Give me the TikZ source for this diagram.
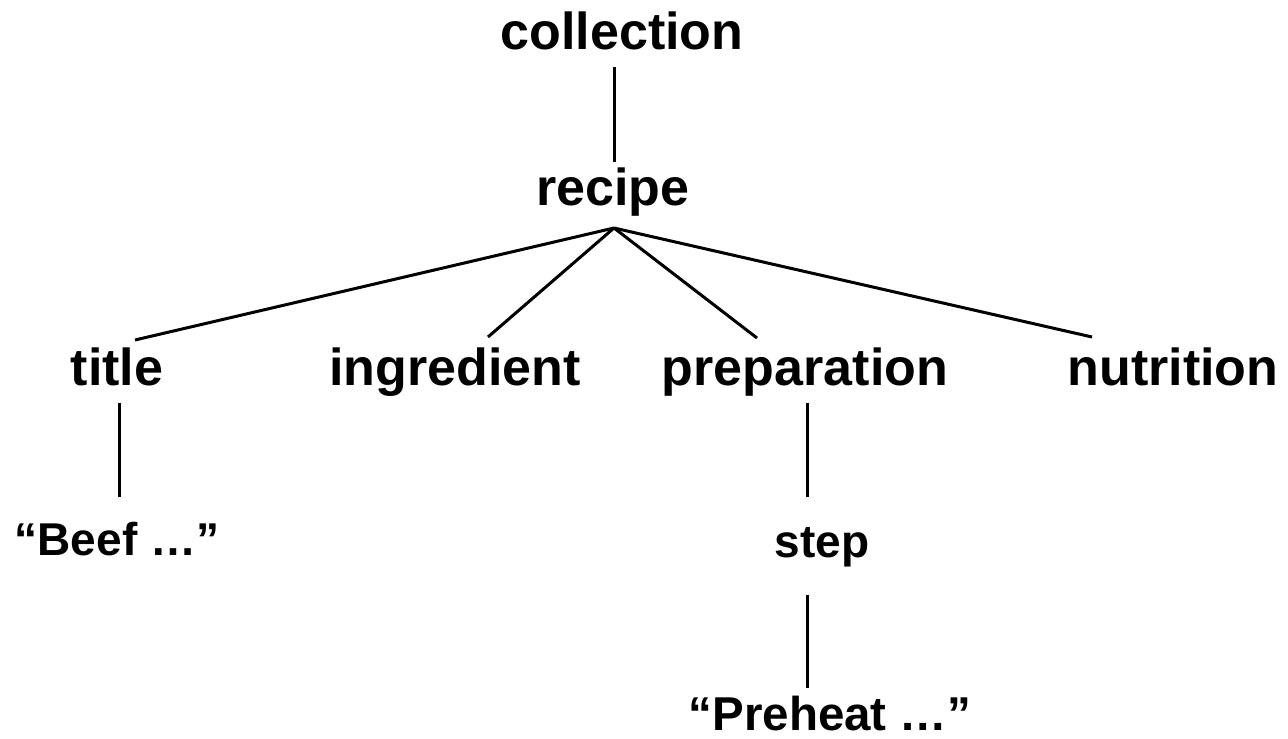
\documentclass[tikz,border=0pt]{standalone}
\usepackage{fontspec}
\setmainfont{Liberation Sans}
\begin{document}
\begin{tikzpicture}[x=1pt,y=-1pt,
  lbl/.style={anchor=base,inner sep=0pt,font=\bfseries\fontsize{52}{60}\selectfont},
  leaf/.style={lbl,font=\bfseries\fontsize{46}{54}\selectfont},
  edge/.style={line width=3pt}]
\useasboundingbox (0,0) rectangle (1288,739);
% tree labels, placed by their baselines
\node[lbl]  (collection)  at (622,49)  {collection};
\node[lbl]  (recipe)      at (613,205) {recipe};
\node[lbl]  (title)       at (117,385) {title};
\node[lbl]  (ingredient)  at (455,385) {ingredient};
\node[lbl]  (preparation) at (805,385) {preparation};
\node[lbl]  (nutrition)   at (1173,385) {nutrition};
\node[leaf] (beef)        at (117,555) {“Beef …”};
\node[leaf] (step)        at (822,557) {step};
\node[leaf,font=\bfseries\fontsize{47.5}{54}\selectfont] (preheat) at (830,730) {“Preheat …”};
% connectors
\draw[edge] ([xshift=-8pt,yshift=-18pt]collection.base) -- ([xshift=1pt,yshift=43pt]recipe.base);
\draw[edge] ([xshift=1pt,yshift=-23pt]recipe.base) -- ([xshift=18pt,yshift=45pt]title.base);
\draw[edge] ([xshift=1pt,yshift=-23pt]recipe.base) -- ([xshift=33pt,yshift=48pt]ingredient.base);
\draw[edge] ([xshift=1pt,yshift=-23pt]recipe.base) -- ([xshift=-48pt,yshift=47pt]preparation.base);
\draw[edge] ([xshift=1pt,yshift=-23pt]recipe.base) -- ([xshift=-81pt,yshift=48pt]nutrition.base);
\draw[edge] ([xshift=2pt,yshift=-18pt]title.base) -- ([xshift=2pt,yshift=58pt]beef.base);
\draw[edge] ([xshift=2pt,yshift=-18pt]preparation.base) -- ([xshift=-15pt,yshift=60pt]step.base);
\draw[edge] ([xshift=-15pt,yshift=-38pt]step.base) -- ([xshift=-23pt,yshift=42pt]preheat.base);
\end{tikzpicture}
\end{document}
